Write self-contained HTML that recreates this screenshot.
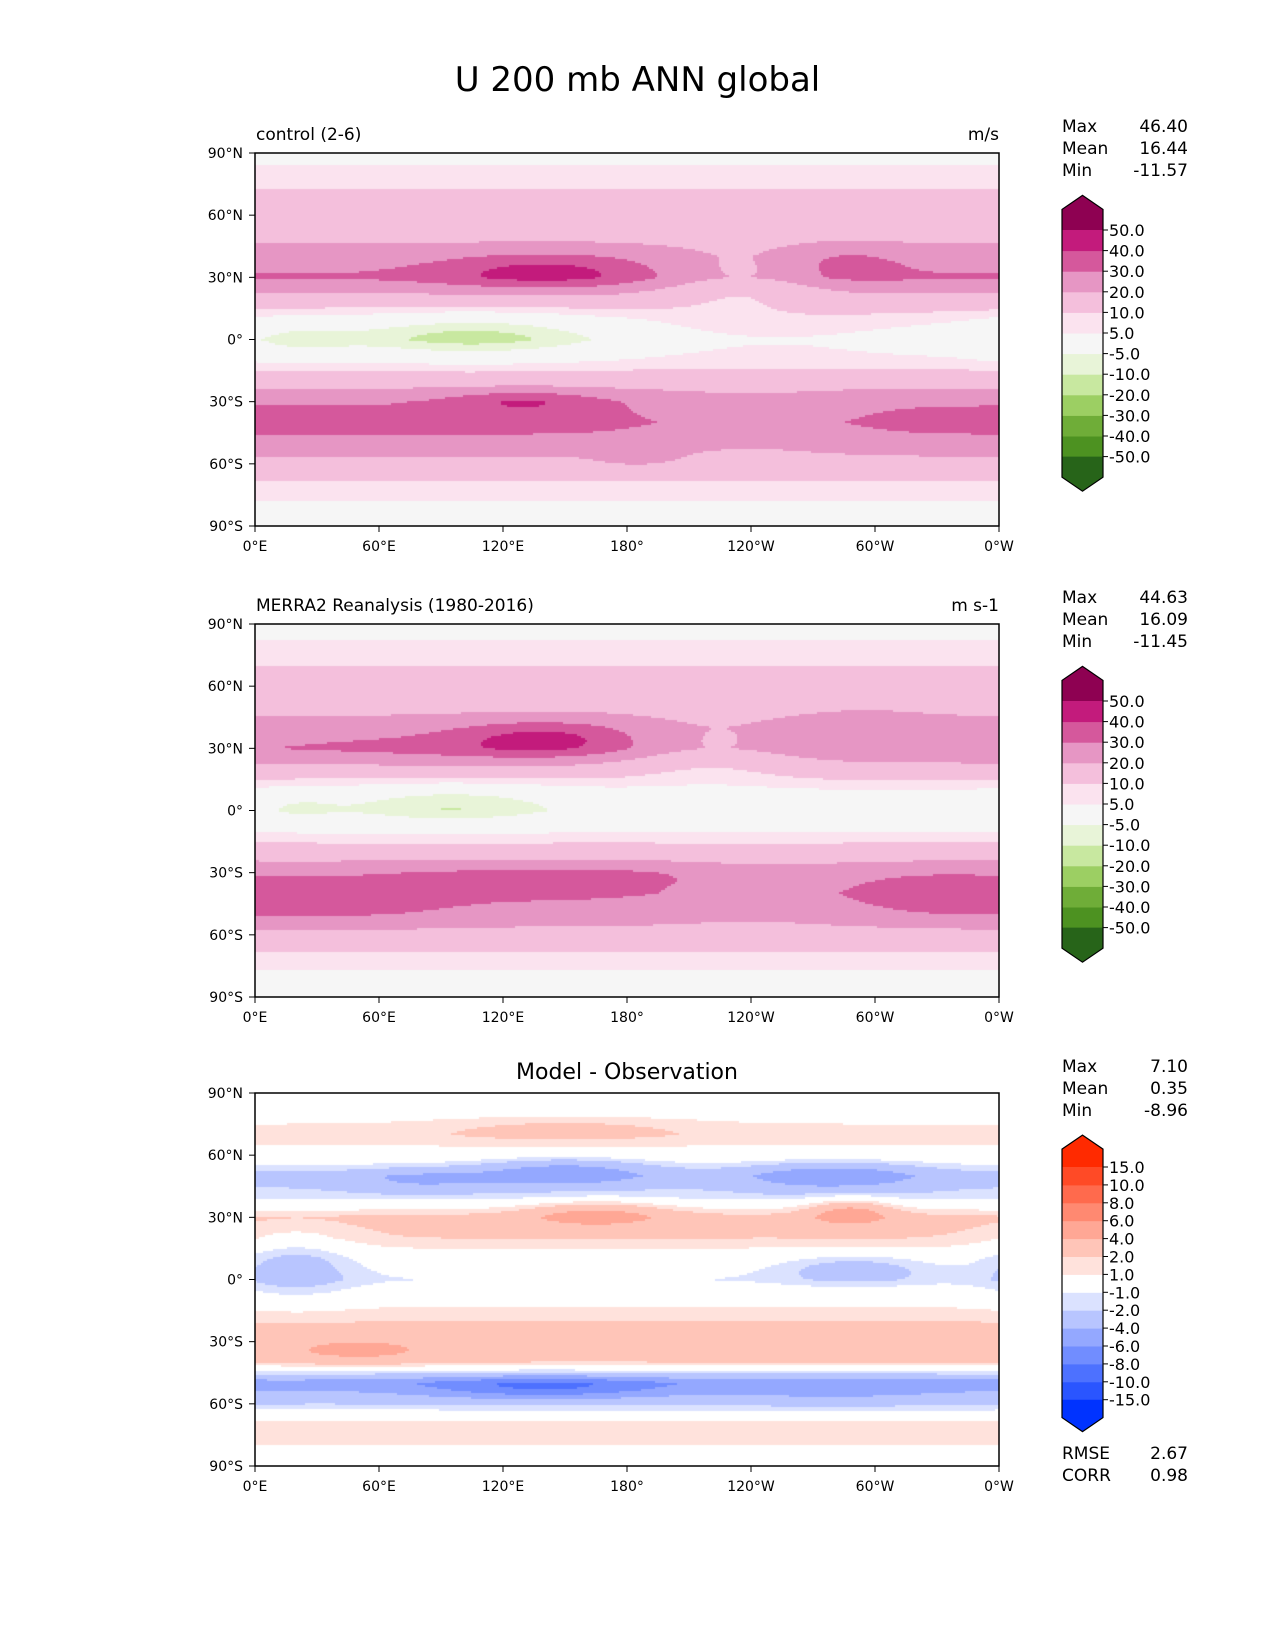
<!DOCTYPE html>
<html><head><meta charset="utf-8"><style>
body{margin:0;background:#fff;width:1275px;height:1650px;position:relative;overflow:hidden;font-family:"DejaVu Sans","Liberation Sans",sans-serif;color:#000}
.t{position:absolute;white-space:nowrap}
canvas{position:absolute}
svg{position:absolute;left:0;top:0;font-family:"DejaVu Sans","Liberation Sans",sans-serif}
</style></head><body>
<div class="t" style="left:0;width:1275px;text-align:center;top:60px;font-size:34px">U 200 mb ANN global</div>
<canvas id="c0" width="744" height="373" style="left:255px;top:153px"></canvas>
<canvas id="c1" width="744" height="373" style="left:255px;top:624px"></canvas>
<canvas id="c2" width="744" height="373" style="left:255px;top:1093px"></canvas>
<svg id="ov" width="1275" height="1650"></svg>
<script>
// ---- data ----
const lats=[90,80,70,60,50,40,30,20,10,0,-10,-20,-30,-40,-50,-60,-70,-80,-90];
const profControl=[2,7,11,14,17,25,31,17,6,0,6,15,29,34,27,16,9,4,2];
const profObs=[2,6,10,13,17,24,28,16,5,0,5,14,26,31,26,16,9,3,2];
const profDiff=[0,0.5,1.5,0.5,-2.5,-1.5,2.5,2,0,-1,0.5,2,3,2,-5,-2,1.5,1,0];
// blobs: lon, lat, amplitude, lon width, lat width
const blobsControl=[[140,33,15,35,6],[285,37,8,20,6],[235,28,-12,30,10],[105,2,-13,45,8],[20,0,-6,20,8],[250,5,5,40,10],[130,-30,12,25,4],[240,-40,-9,35,10],[185,-58,6,15,3]];
const blobsObs=[[140,35,16,30,6],[90,30,5,60,6],[295,40,5,20,6],[220,28,-9,30,10],[95,3,-11,40,7],[20,2,-5,15,6],[150,-32,8,60,5],[40,-45,6,40,8],[330,-40,6,30,8],[240,-40,-6,35,10]];
const blobsDiff=[[165,32,3,25,5],[288,33,3.5,15,5],[150,52,-3.5,30,5],[280,50,-3.5,30,5],[80,48,-2,25,4],[20,8,-2.5,20,12],[290,5,-2.5,25,5],[140,-52,-4,40,4],[50,-35,2,30,4],[280,-55,-1,40,5],[150,72,1.5,40,4]];
const levMain=[-50,-40,-30,-20,-10,-5,5,10,20,30,40,50];
const colMain=["#276419","#4d9221","#6fad38","#9ccf63","#c8e8a0","#e8f4d8","#f6f6f6","#fbe3ef","#f4bfdc","#e696c4","#d5589c","#c31b7c","#8e0152"];
const levDiff=[-15,-10,-8,-6,-4,-2,-1,1,2,4,6,8,10,15];
const colDiff=["#0033ff","#2a55ff","#4d71ff","#718dff","#94a8ff","#b8c5ff","#dbe2ff","#ffffff","#ffe2dc","#ffc5b8","#ffa795","#ff8971","#ff6a4d","#ff4a26","#ff2a00"];
const stats=[["46.40","16.44","-11.57"],["44.63","16.09","-11.45"],["7.10","0.35","-8.96"]];
const lonTicks=["0°E","60°E","120°E","180°","120°W","60°W","0°W"];
const latTicks=["90°N","60°N","30°N","0°","30°S","60°S","90°S"];
// ---- rendering ----
function prof(p,lat){let i=(90-lat)/10,i0=Math.min(17,Math.floor(i)),f=i-i0;return p[i0]*(1-f)+p[i0+1]*f;}
function field(p,b,lon,lat){let v=prof(p,lat);for(const q of b){let dl=lon-q[0];if(dl>180)dl-=360;if(dl<-180)dl+=360;v+=q[2]*Math.exp(-(dl*dl)/(2*q[3]*q[3])-((lat-q[1])**2)/(2*q[4]*q[4]));}return v;}
function colorOf(v,lev,col){let k=0;while(k<lev.length&&v>lev[k])k++;return col[k];}
function draw(id,p,b,lev,col){const c=document.getElementById(id).getContext('2d');const W=744,H=373,s=2;
for(let y=0;y<H;y+=s)for(let x=0;x<W;x+=s){const lon=(x+1)/W*360,lat=90-(y+1)/H*180;c.fillStyle=colorOf(field(p,b,lon,lat),lev,col);c.fillRect(x,y,s,s);}}
draw('c0',profControl,blobsControl,levMain,colMain);
draw('c1',profObs,blobsObs,levMain,colMain);
draw('c2',profDiff,blobsDiff,levDiff,colDiff);
const NS="http://www.w3.org/2000/svg",ov=document.getElementById('ov');
function el(t,a,txt){const e=document.createElementNS(NS,t);for(const k in a)e.setAttribute(k,a[k]);if(txt!==undefined)e.textContent=txt;ov.appendChild(e);return e;}
const tops=[153,624,1093];
tops.forEach((T,pi)=>{
 const fr=el('rect',{x:255,y:T,width:744,height:373,fill:'none',stroke:'#000','stroke-width':1.5});
 
 
 lonTicks.forEach((s,i)=>{const x=255+i*124;el('line',{x1:x,y1:T+373,x2:x,y2:T+379,stroke:'#000'});
  const t=el('text',{x:x,y:T+398,'font-size':14,'text-anchor':'middle'},s);
  
  });
 latTicks.forEach((s,i)=>{const y=T+i*373/6;el('line',{x1:249,y1:y,x2:255,y2:y,stroke:'#000'});
  const t=el('text',{x:243,y:y+5,'font-size':14,'text-anchor':'end'},s);
  
  });
 const sy=T-21;
 ["Max","Mean","Min"].forEach((n,j)=>{
  const a=el('text',{x:1062,y:sy+j*22,'font-size':17},n);
  
  
  const v=el('text',{x:1188,y:sy+j*22,'font-size':17,'text-anchor':'end'},stats[pi][j]);
  
  });
 const isD=pi==2,lev=isD?levDiff:levMain,col=isD?colDiff:colMain;
 const b0=isD?T+74:T+77,bh=isD?17.9:20.6,n=lev.length;
 const bot=b0+(n-1)*bh;
 for(let k=0;k<n-1;k++){const r=el('rect',{x:1062,y:bot-(k+1)*bh,width:41,height:bh+0.5,fill:col[k+1]});
  
  }
 el('polygon',{points:`1062,${b0} 1062,${b0-bh} 1082.5,${b0-bh-14} 1103,${b0-bh} 1103,${b0}`,fill:col[n]});
 el('polygon',{points:`1062,${bot} 1062,${bot+bh} 1082.5,${bot+bh+14} 1103,${bot+bh} 1103,${bot}`,fill:col[0]});
 el('polygon',{points:`1062,${bot+bh} 1062,${b0-bh} 1082.5,${b0-bh-14} 1103,${b0-bh} 1103,${bot+bh} 1082.5,${bot+bh+14}`,fill:'none',stroke:'#000','stroke-width':1.2});
 for(let k=0;k<n;k++){const y=b0+k*bh;el('line',{x1:1103,y1:y,x2:1108,y2:y,stroke:'#000'});
  const t=el('text',{x:1109,y:y+6,'font-size':16},lev[n-1-k].toFixed(1));
  
  }
});
</script>
<div class="t" style="left:256px;top:125px;font-size:17px">control (2-6)</div>
<div class="t" style="right:276px;top:125px;font-size:17px">m/s</div>
<div class="t" style="left:256px;top:596px;font-size:17px">MERRA2 Reanalysis (1980-2016)</div>
<div class="t" style="right:276px;top:596px;font-size:17px">m s-1</div>
<div class="t" style="left:255px;width:744px;text-align:center;top:1060px;font-size:22px">Model - Observation</div>
<div class="t" style="left:1062px;top:1444px;font-size:17px">RMSE</div>
<div class="t" style="right:87px;top:1444px;font-size:17px">2.67</div>
<div class="t" style="left:1062px;top:1466px;font-size:17px">CORR</div>
<div class="t" style="right:87px;top:1466px;font-size:17px">0.98</div>
</body></html>
